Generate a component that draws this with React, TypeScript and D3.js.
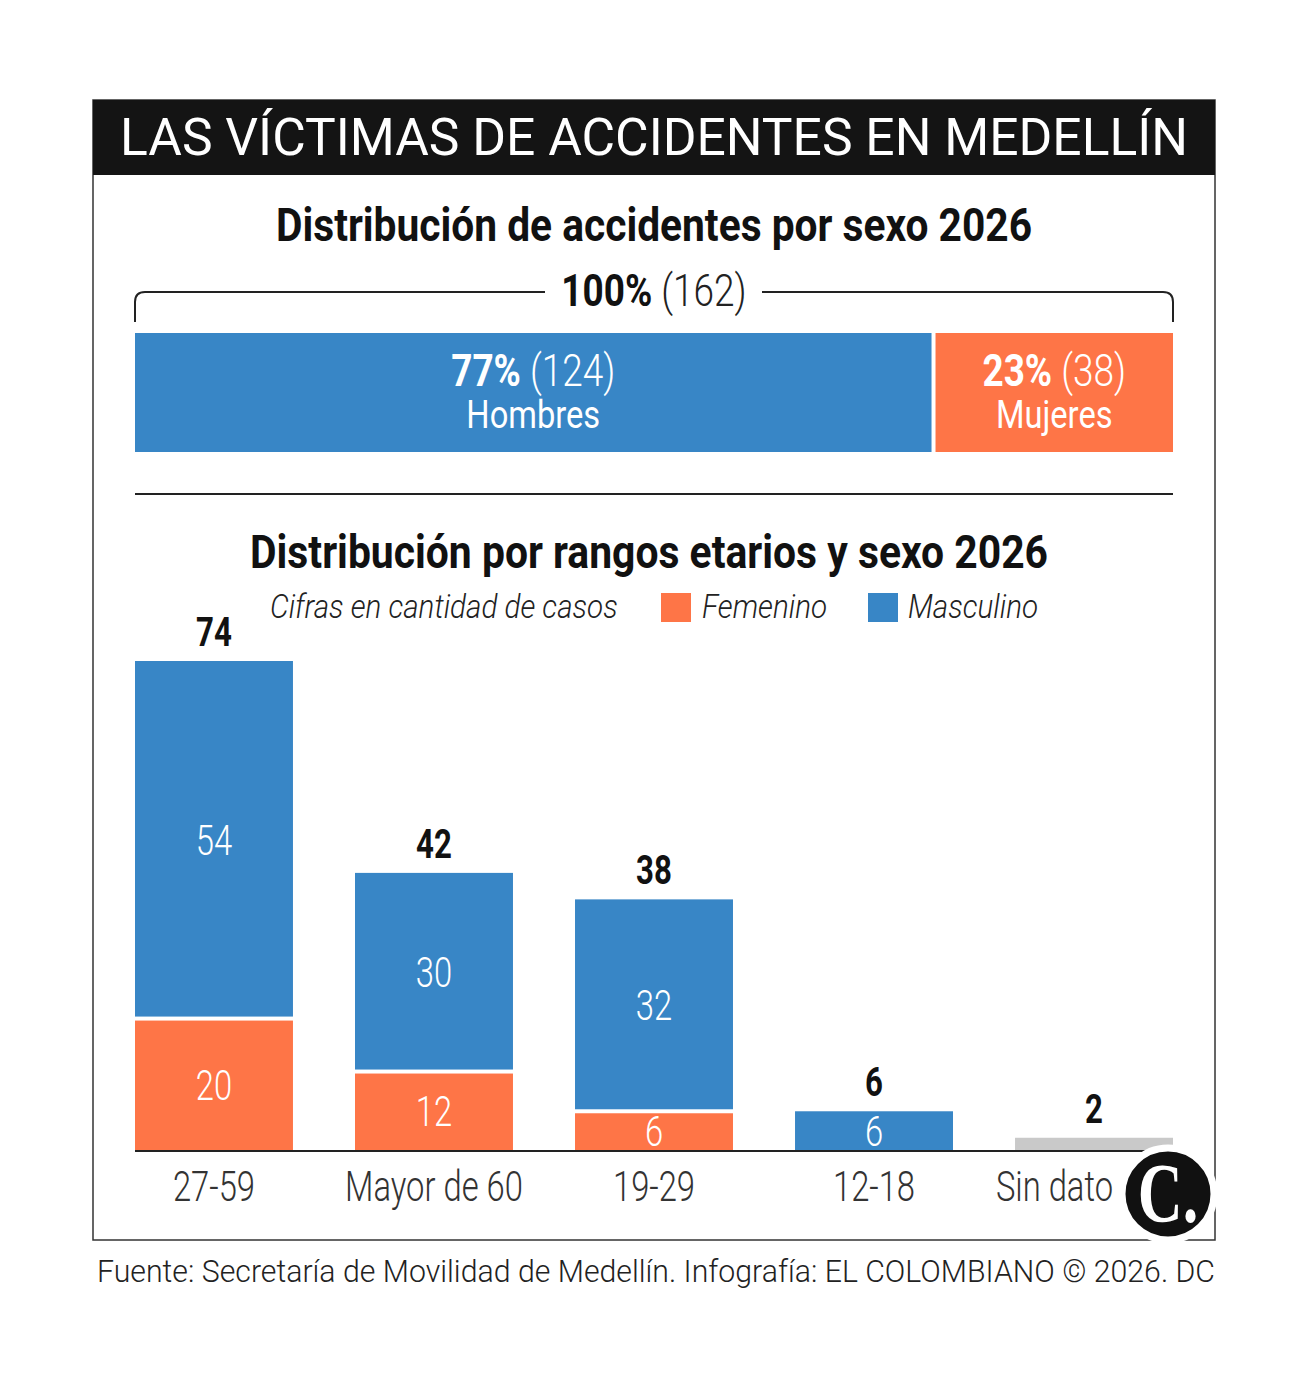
import React from "react";
import * as d3 from "d3";

// cifras por sexo (total del año)
const sexLabels = ["Hombres", "Mujeres"];
const sexValues = [124, 38];

// rangos etarios, apilados por sexo
const categories = ["27-59", "Mayor de 60", "19-29", "12-18", "Sin dato"];
const femenino = [20, 12, 6, 0, 0];
const masculino = [54, 30, 32, 6, 0];
const sinDato = [0, 0, 0, 0, 2];

const BLUE = "#3886c6";
const ORANGE = "#fe7547";
const GRAY = "#c9c9c9";
const FONT = "Roboto, 'Noto Sans', sans-serif";

const W = 1316;
const H = 1382;
const left = 135;
const right = 1173;
const baseY = 1151;
const logo = { cx: 1168, cy: 1194, r: 46 };

// texto condensado: Roboto estrechado horizontalmente
const Cond: React.FC<{
  x: number;
  y: number;
  sx?: number;
  size: number;
  weight?: number;
  fill?: string;
  anchor?: "start" | "middle" | "end";
  italic?: boolean;
  family?: string;
  children: React.ReactNode;
}> = ({ x, y, sx = 0.78, size, weight = 400, fill = "#222", anchor = "middle", italic, family = FONT, children }) => (
  <text
    transform={`translate(${x},${y}) scale(${sx},1)`}
    fontFamily={family}
    fontSize={size}
    fontWeight={weight}
    fontStyle={italic ? "italic" : "normal"}
    fill={fill}
    textAnchor={anchor}
  >
    {children}
  </text>
);

const App: React.FC = () => {
  const total = d3.sum(sexValues);
  const xs = d3.scaleLinear().domain([0, total]).range([left, right]);

  const x = d3.scaleBand<string>().domain(categories).range([left, right]).paddingInner(0.282).paddingOuter(0);
  const totals = categories.map((_, i) => femenino[i] + masculino[i] + sinDato[i]);
  const y = d3.scaleLinear().domain([0, 74]).range([baseY, 661]);

  const gap = 2;
  const split = xs(sexValues[0]);

  return (
    <svg width={W} height={H} viewBox={`0 0 ${W} ${H}`} style={{ display: "block", margin: "-8px" }}>
      <rect width={W} height={H} fill="#fff" />

      {/* marco y cabecera */}
      <rect x={93} y={100} width={1122} height={1140} fill="none" stroke="#333" strokeWidth={1.5} />
      <rect x={93} y={100} width={1122} height={75} fill="#141414" />
      <text
        x={120}
        y={155}
        fontFamily={FONT}
        fontSize={52}
        fill="#fff"
        textLength={1068}
        lengthAdjust="spacingAndGlyphs"
      >
        LAS VÍCTIMAS DE ACCIDENTES EN MEDELLÍN
      </text>

      {/* distribución por sexo */}
      <text
        x={276}
        y={241}
        fontFamily={FONT}
        fontSize={47}
        fontWeight={700}
        fill="#111"
        textLength={756}
        lengthAdjust="spacingAndGlyphs"
      >
        Distribución de accidentes por sexo 2026
      </text>

      <path
        d={`M${left},322 V302 Q${left},292 ${left + 10},292 H545 M762,292 H${right - 10} Q${right},292 ${right},302 V322`}
        fill="none"
        stroke="#222"
        strokeWidth={2}
      />
      <Cond x={654} y={306} size={44} sx={0.84} anchor="middle">
        <tspan fontWeight={700} fill="#111">100%</tspan>
        <tspan fontWeight={300} fill="#222"> ({total})</tspan>
      </Cond>

      <rect x={xs(0)} y={333} width={split + gap - xs(0)} height={119} fill={BLUE} />
      <rect x={split + gap + 4} y={333} width={xs(total) - split - gap - 4} height={119} fill={ORANGE} />
      {sexValues.map((v, i) => {
        const x0 = i === 0 ? xs(0) : split + gap + 4;
        const x1 = i === 0 ? split + gap : xs(total);
        const cx = (x0 + x1) / 2;
        return (
          <g key={sexLabels[i]}>
            <Cond x={cx} y={386} size={44} sx={0.84} fill="#fff">
              <tspan fontWeight={700}>{Math.round((v / total) * 100)}%</tspan>
              <tspan fontWeight={300}> ({v})</tspan>
            </Cond>
            <Cond x={cx} y={428} size={38} sx={0.86} weight={400} fill="#fff">
              {sexLabels[i]}
            </Cond>
          </g>
        );
      })}

      <line x1={left} x2={right} y1={494} y2={494} stroke="#222" strokeWidth={2} />

      {/* distribución por rangos etarios */}
      <text
        x={250}
        y={568}
        fontFamily={FONT}
        fontSize={46}
        fontWeight={700}
        fill="#111"
        textLength={798}
        lengthAdjust="spacingAndGlyphs"
      >
        Distribución por rangos etarios y sexo 2026
      </text>

      <Cond x={270} y={618} size={34} sx={0.87} weight={300} italic anchor="start">
        Cifras en cantidad de casos
      </Cond>
      <rect x={661} y={593} width={30} height={29} fill={ORANGE} />
      <Cond x={702} y={618} size={34} sx={0.87} weight={300} italic anchor="start">
        Femenino
      </Cond>
      <rect x={868} y={593} width={30} height={29} fill={BLUE} />
      <Cond x={908} y={618} size={34} sx={0.87} weight={300} italic anchor="start">
        Masculino
      </Cond>

      {categories.map((c, i) => {
        const bx = x(c) as number;
        const bw = x.bandwidth();
        const cx = bx + bw / 2;
        const f = femenino[i];
        const m = masculino[i];
        const s = sinDato[i];
        const fTop = y(f);
        const mTop = y(f + m);
        const last = i === categories.length - 1;
        return (
          <g key={c}>
            {f > 0 && (
              <rect x={bx} y={fTop + gap} width={bw} height={baseY - fTop - gap} fill={ORANGE} />
            )}
            {m > 0 && (
              <rect
                x={bx}
                y={mTop}
                width={bw}
                height={(f > 0 ? fTop - gap : baseY) - mTop}
                fill={BLUE}
              />
            )}
            {s > 0 && <rect x={bx} y={y(s)} width={bw} height={baseY - y(s)} fill={GRAY} />}
            {f > 0 && (
              <Cond x={cx} y={(fTop + baseY) / 2 + 15} size={42} weight={300} fill="#fff">
                {f}
              </Cond>
            )}
            {m > 0 && (
              <Cond x={cx} y={(mTop + (f > 0 ? fTop : baseY)) / 2 + 15} size={42} weight={300} fill="#fff">
                {m}
              </Cond>
            )}
            <Cond x={cx} y={y(totals[i]) - 15} size={40} weight={700} fill="#111">
              {totals[i]}
            </Cond>
            {/* la última etiqueta se corre a la izquierda para dejar sitio al logotipo */}
            <Cond
              x={last ? logo.cx - logo.r - 9 : cx}
              y={1201}
              size={42}
              weight={300}
              fill="#333"
              anchor={last ? "end" : "middle"}
            >
              {c}
            </Cond>
          </g>
        );
      })}
      <line x1={left} x2={right} y1={baseY} y2={baseY} stroke="#222" strokeWidth={2} />

      {/* logotipo */}
      <circle cx={logo.cx} cy={logo.cy} r={logo.r} fill="#111" stroke="#fff" strokeWidth={7} />
      <Cond
        x={logo.cx}
        y={logo.cy + 28}
        size={84}
        sx={0.74}
        weight={700}
        fill="#fff"
        family="'Liberation Serif', 'DejaVu Serif', serif"
      >
        C.
      </Cond>

      {/* fuente */}
      <text
        x={97}
        y={1282}
        fontFamily={FONT}
        fontSize={32}
        fontWeight={300}
        fill="#222"
        textLength={1118}
        lengthAdjust="spacingAndGlyphs"
      >
        Fuente: Secretaría de Movilidad de Medellín. Infografía: EL COLOMBIANO © 2026. DC
      </text>
    </svg>
  );
};

export default App;
